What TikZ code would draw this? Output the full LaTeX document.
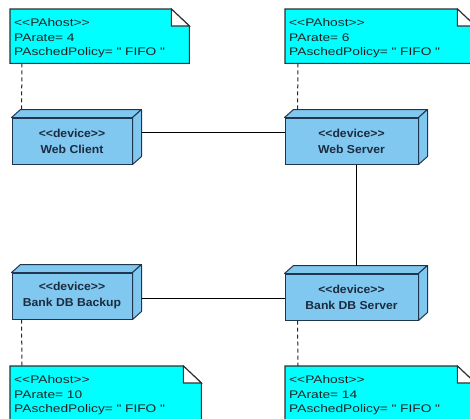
\documentclass[tikz,border=0pt]{standalone}
\usepackage{fontspec}
\setmainfont{Liberation Sans}
\newfontfamily\notefont[FakeStretch=1.25]{Liberation Sans}
\newfontfamily\devfont[FakeStretch=1.06]{Liberation Sans}
\usetikzlibrary{backgrounds}
\definecolor{notefill}{HTML}{00FFFF}
\definecolor{devfill}{HTML}{80C8F0}
\definecolor{devline}{HTML}{1F3550}
\definecolor{devtext}{HTML}{1C2B3F}
\definecolor{notetext}{HTML}{222222}
\definecolor{noteline}{HTML}{303030}
\begin{document}
\begin{tikzpicture}[x=1pt,y=-1pt,
  devbox/.style={draw=devline, fill=devfill, line width=1pt, minimum width=#1,
    minimum height=46pt, inner sep=0pt, align=center,
    font=\devfont\bfseries\fontsize{11.5}{16}\selectfont, text=devtext},
  devface/.style={draw=devline, fill=devfill, line width=1pt, line join=round},
  notebox/.style={anchor=north west, text width=#1, minimum height=54pt,
    inner xsep=4pt, inner ysep=0pt, align=left,
    font=\notefont\fontsize{11}{14.5}\selectfont, text=notetext,
    execute at begin node=\rule{0pt}{12.5pt}},
  noteshape/.style={draw=noteline, line width=1.1pt, line join=miter},
  conn/.style={draw=black, line width=1pt},
  dashconn/.style={draw=black!85, line width=1pt, dash pattern=on 4pt off 3pt}
]
\path[use as bounding box, clip] (0,0) rectangle (470,418);

% devices
\node[devbox=120pt] (wc) at (72,141) {<<device>>\\Web Client};
\node[devbox=133pt] (ws) at (351.5,141) {<<device>>\\Web Server};
\node[devbox=120pt] (bb) at (72,296) {<<device>>\\Bank DB Backup};
\node[devbox=133pt] (bs) at (351.5,297) {<<device>>\\Bank DB Server};

\foreach \d in {wc,ws,bb,bs} {
  \draw[devface] (\d.north west) -- ([xshift=9pt,yshift=8pt]\d.north west)
     -- ([xshift=9pt,yshift=8pt]\d.north east) -- (\d.north east) -- cycle;
  \draw[devface] (\d.north east) -- ([xshift=9pt,yshift=8pt]\d.north east)
     -- ([xshift=9pt,yshift=8pt]\d.south east) -- (\d.south east) -- cycle;
}

% notes
\node[notebox=171pt] (n1) at (10,9) {<<PAhost>>\\PArate= 4\\PAschedPolicy= " FIFO "};
\node[notebox=182pt] (n2) at (285,9) {<<PAhost>>\\PArate= 6\\PAschedPolicy= " FIFO "};
\node[notebox=183pt] (n3) at (10,366) {<<PAhost>>\\PArate= 10\\PAschedPolicy= " FIFO "};
\node[notebox=182pt] (n4) at (285,366) {<<PAhost>>\\PArate= 14\\PAschedPolicy= " FIFO "};

\begin{scope}[on background layer]
\foreach \n in {n1,n2,n3,n4} {
  \draw[noteshape, fill=notefill] (\n.north west) -- ([xshift=-18pt]\n.north east)
    -- ([yshift=-17pt]\n.north east) -- (\n.south east) -- (\n.south west) -- cycle;
  \draw[noteshape, fill=white] ([xshift=-18pt]\n.north east)
    -- ([xshift=-18pt,yshift=-17pt]\n.north east) -- ([yshift=-17pt]\n.north east) -- cycle;
}
\end{scope}

% connectors
\draw[conn] ([xshift=9pt,yshift=9pt]wc.east) -- ([yshift=9pt]ws.west);
\draw[conn] ([xshift=5pt]ws.south) -- ([xshift=5pt,yshift=8pt]bs.north);
\draw[conn] ([xshift=9pt,yshift=-2pt]bb.east) -- ([yshift=-1pt]bs.west);

% note anchors
\draw[dashconn] ([xshift=12pt]n1.south west) -- ([xshift=10pt,yshift=8pt]wc.north west);
\draw[dashconn] ([xshift=13pt]n2.south west) -- ([xshift=13pt,yshift=8pt]ws.north west);
\draw[dashconn] ([xshift=10pt]bb.south west) -- ([xshift=12pt]n3.north west);
\draw[dashconn] ([xshift=13pt]bs.south west) -- ([xshift=13pt]n4.north west);
\end{tikzpicture}
\end{document}
